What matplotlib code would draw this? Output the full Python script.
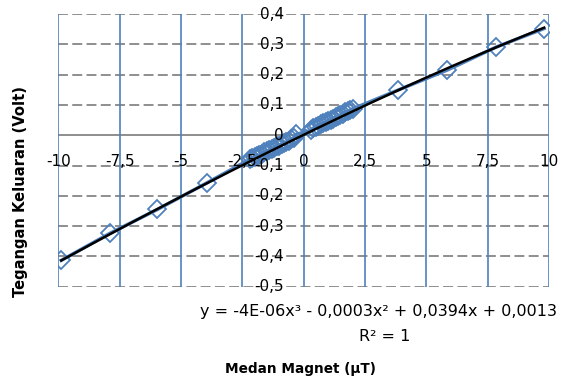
import numpy as np
import matplotlib.pyplot as plt

# Data: Medan Magnet (uT) vs Tegangan Keluaran (Volt)
medan_kiri = [-9.88, -7.9, -5.96, -3.96]
tegangan_kiri = [-0.413, -0.324, -0.245, -0.158]

medan_tengah_neg = [-2.2, -2.1, -2.0, -1.9, -1.8, -1.7, -1.6, -1.5, -1.4, -1.3,
                    -1.2, -1.1, -1.0, -0.9, -0.8, -0.7, -0.6, -0.5, -0.4, -0.3]
tegangan_tengah_neg = [-0.080, -0.076, -0.072, -0.068, -0.065, -0.061, -0.057, -0.053, -0.049, -0.045,
                       -0.041, -0.037, -0.034, -0.030, -0.026, -0.022, -0.018, -0.014, -0.010, 0.003]

medan_tengah_pos = [0.3, 0.4, 0.5, 0.6, 0.7, 0.8, 0.9, 1.0, 1.1, 1.2,
                    1.3, 1.4, 1.5, 1.6, 1.7, 1.8, 1.9, 2.0]
tegangan_tengah_pos = [0.016, 0.024, 0.028, 0.032, 0.036, 0.040, 0.044, 0.048, 0.051, 0.055,
                       0.059, 0.063, 0.067, 0.071, 0.075, 0.079, 0.083, 0.087]

medan_kanan = [3.85, 5.85, 7.85, 9.8]
tegangan_kanan = [0.149, 0.215, 0.291, 0.352]

# Koefisien trendline (dari persamaan di grafik)
koef = [-4e-06, -0.0003, 0.0394, 0.0013]

x_ticks = [-10, -7.5, -5, -2.5, 0, 2.5, 5, 7.5, 10]
y_ticks = [-0.5, -0.4, -0.3, -0.2, -0.1, 0, 0.1, 0.2, 0.3, 0.4]

x = np.array(medan_kiri + medan_tengah_neg + medan_tengah_pos + medan_kanan)
y = np.array(tegangan_kiri + tegangan_tengah_neg + tegangan_tengah_pos + tegangan_kanan)

plt.rcParams['font.family'] = ['DejaVu Sans']

biru = '#4F81BD'
abu = '#868686'

fig = plt.figure(figsize=(5.63, 3.83), dpi=100)
ax = fig.add_axes([0.1036, 0.2514, 0.8715, 0.712])
ax.set_xlim(-10, 10)
ax.set_ylim(-0.5, 0.4)

# Grid
for yy in y_ticks:
    if yy == 0:
        ax.axhline(yy, color=abu, lw=1.3, zorder=1)
    else:
        ax.axhline(yy, color=abu, lw=1.3, ls=(0, (5.5, 2.4)), zorder=1)
for xx in x_ticks:
    ax.axvline(xx, color=biru, lw=1.2, zorder=1.5)

for s in ax.spines.values():
    s.set_visible(False)

# Data series + trendline
ax.plot(x, y, color=biru, lw=2.5, marker='D', ms=9.5, mfc='none', mec=biru, mew=1.3, zorder=3)
xt = np.linspace(x.min(), x.max(), 200)
ax.plot(xt, np.polyval(koef, xt), color='black', lw=1.8, zorder=4)

# Tick labels ditempatkan di sumbu (axis cross di 0)
ax.set_xticks([])
ax.set_yticks([])
fmt = lambda v: ('%g' % v).replace('.', ',')
for xx in x_ticks:
    ax.text(xx, -0.088, fmt(xx), ha='center', va='center', fontsize=11, zorder=5)
for yy in y_ticks:
    ax.text(-0.8, yy, fmt(round(yy, 1)), ha='right', va='center', fontsize=11, zorder=5)

fig.text(0.672, 0.187, 'y = -4E-06x³ - 0,0003x² + 0,0394x + 0,0013', ha='center', va='center', fontsize=11.5)
fig.text(0.684, 0.122, 'R² = 1', ha='center', va='center', fontsize=11.5)
fig.text(0.533, 0.037, 'Medan Magnet (µT)', ha='center', va='center', fontsize=9.8, fontweight='bold')
fig.text(0.036, 0.499, 'Tegangan Keluaran (Volt)', ha='center', va='center', rotation=90,
         fontsize=10.6, fontweight='bold')

fig.savefig('out.png', dpi=100)
